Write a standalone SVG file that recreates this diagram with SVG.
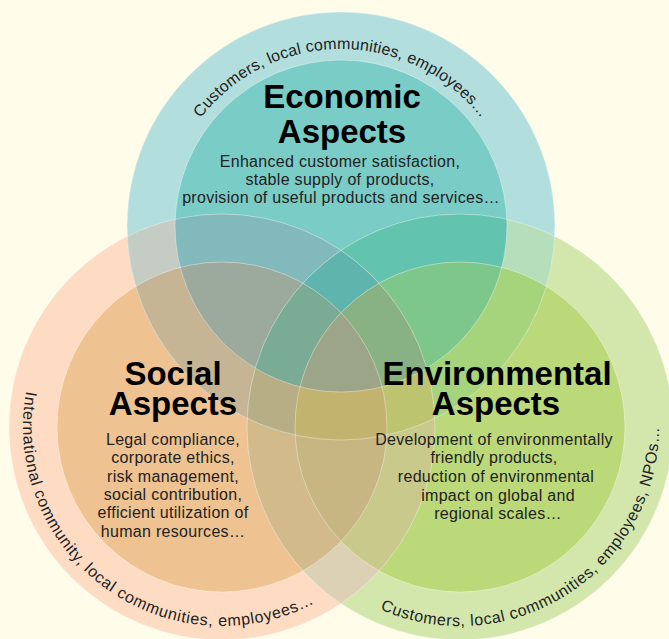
<svg xmlns="http://www.w3.org/2000/svg" width="669" height="639" viewBox="0 0 669 639">
<style>
.title{font-family:"Liberation Sans",Arial,sans-serif;font-weight:bold;font-size:33px;fill:#000;text-anchor:middle}
.body{font-family:"Liberation Sans",Arial,sans-serif;font-size:16px;letter-spacing:0.3px;fill:#222;text-anchor:middle}
.arc{font-family:"Liberation Sans",Arial,sans-serif;font-size:16px;fill:#222;text-anchor:middle}
.edge{fill:none;stroke:#fff;stroke-opacity:0.45;stroke-width:0.8}
</style>
<defs>
<clipPath id="cEO"><circle cx="341" cy="226" r="214"/></clipPath>
<clipPath id="cEI"><circle cx="341" cy="226" r="166"/></clipPath>
<clipPath id="cSO"><circle cx="222" cy="427" r="213"/></clipPath>
<clipPath id="cSI"><circle cx="222" cy="427" r="165"/></clipPath>
<clipPath id="cGO"><circle cx="460" cy="427" r="213"/></clipPath>
<clipPath id="cGI"><circle cx="460" cy="427" r="165"/></clipPath>
<path id="pE" d="M187.7,314.5 A177,177 0 1,1 494.3,314.5"/>
<path id="pS" d="M142.0,244.8 A199,199 0 1,0 419.8,448.8"/>
<path id="pG" d="M261.3,438.1 A199,199 0 1,0 549.7,249.4"/>
</defs>
<rect width="669" height="639" fill="#FFFDE9"/>
<g id="social">
<circle cx="222" cy="427" r="213" fill="#FDDCC3"/>
<circle cx="222" cy="427" r="165" fill="#EEC291"/>
</g>
<g id="environmental">
<circle cx="460" cy="427" r="213" fill="#D3E7AD"/>
<circle cx="460" cy="427" r="165" fill="#BBD978"/>
</g>
<g id="economic">
<circle cx="341" cy="226" r="214" fill="#B2DFDD"/>
<circle cx="341" cy="226" r="166" fill="#7ACCC7"/>
</g>
<g id="overlaps">
<g clip-path="url(#cSO)"><circle cx="341" cy="226" r="214" fill="#C4CCC3"/></g>
<g clip-path="url(#cSO)"><circle cx="341" cy="226" r="166" fill="#81B9BD"/></g>
<g clip-path="url(#cSI)"><circle cx="341" cy="226" r="214" fill="#C5B594"/></g>
<g clip-path="url(#cSI)"><circle cx="341" cy="226" r="166" fill="#9BAA9D"/></g>
<g clip-path="url(#cGO)"><circle cx="341" cy="226" r="214" fill="#B7DEBA"/></g>
<g clip-path="url(#cGO)"><circle cx="341" cy="226" r="166" fill="#62C3AF"/></g>
<g clip-path="url(#cGI)"><circle cx="341" cy="226" r="214" fill="#A6D47C"/></g>
<g clip-path="url(#cGI)"><circle cx="341" cy="226" r="166" fill="#7EC78B"/></g>
<g clip-path="url(#cGO)"><circle cx="222" cy="427" r="213" fill="#DCD0B5"/></g>
<g clip-path="url(#cGO)"><circle cx="222" cy="427" r="165" fill="#D3BA8A"/></g>
<g clip-path="url(#cGI)"><circle cx="222" cy="427" r="213" fill="#C8C98A"/></g>
<g clip-path="url(#cGI)"><circle cx="222" cy="427" r="165" fill="#C8B682"/></g>
<g clip-path="url(#cSO)"><g clip-path="url(#cGO)"><circle cx="341" cy="226" r="214" fill="#C6CDB5"/></g></g>
<g clip-path="url(#cSO)"><g clip-path="url(#cGO)"><circle cx="341" cy="226" r="166" fill="#5FB4AE"/></g></g>
<g clip-path="url(#cSI)"><g clip-path="url(#cGO)"><circle cx="341" cy="226" r="214" fill="#B7AE86"/></g></g>
<g clip-path="url(#cSO)"><g clip-path="url(#cGI)"><circle cx="341" cy="226" r="214" fill="#BDC46F"/></g></g>
<g clip-path="url(#cSI)"><g clip-path="url(#cGO)"><circle cx="341" cy="226" r="166" fill="#7AAB94"/></g></g>
<g clip-path="url(#cSO)"><g clip-path="url(#cGI)"><circle cx="341" cy="226" r="166" fill="#88B284"/></g></g>
<g clip-path="url(#cSI)"><g clip-path="url(#cGI)"><circle cx="341" cy="226" r="214" fill="#C2B36F"/></g></g>
<g clip-path="url(#cSI)"><g clip-path="url(#cGI)"><circle cx="341" cy="226" r="166" fill="#9DA588"/></g></g>
<circle class="edge" cx="222" cy="427" r="213"/>
<circle class="edge" cx="222" cy="427" r="165"/>
<circle class="edge" cx="460" cy="427" r="213"/>
<circle class="edge" cx="460" cy="427" r="165"/>
<circle class="edge" cx="341" cy="226" r="214"/>
<circle class="edge" cx="341" cy="226" r="166"/>
</g>
<g id="economic-label">
<text class="title" x="342" y="108">Economic</text>
<text class="title" x="342" y="143">Aspects</text>
<text class="body" x="340" y="167">Enhanced customer satisfaction,</text>
<text class="body" x="340" y="185">stable supply of products,</text>
<text class="body" x="341" y="203">provision of useful products and services…</text>
<text class="arc" letter-spacing="0.2"><textPath href="#pE" startOffset="50%">Customers, local communities, employees…</textPath></text>
</g>
<g id="social-label">
<text class="title" x="173" y="385">Social</text>
<text class="title" x="173" y="415">Aspects</text>
<text class="body" x="173" y="445">Legal compliance,</text>
<text class="body" x="173" y="463">corporate ethics,</text>
<text class="body" x="173" y="482">risk management,</text>
<text class="body" x="173" y="500">social contribution,</text>
<text class="body" x="173" y="518">efficient utilization of</text>
<text class="body" x="173" y="537">human resources…</text>
<text class="arc" letter-spacing="0.7"><textPath href="#pS" startOffset="50%">International community, local communities, employees…</textPath></text>
</g>
<g id="environmental-label">
<text class="title" x="497" y="385">Environmental</text>
<text class="title" x="496" y="415">Aspects</text>
<text class="body" x="494" y="445">Development of environmentally</text>
<text class="body" x="494" y="463">friendly products,</text>
<text class="body" x="496" y="482">reduction of environmental</text>
<text class="body" x="498" y="501">impact on global and</text>
<text class="body" x="498" y="519">regional scales…</text>
<text class="arc" letter-spacing="0.6"><textPath href="#pG" startOffset="50%">Customers, local communities, employees, NPOs…</textPath></text>
</g>
</svg>
